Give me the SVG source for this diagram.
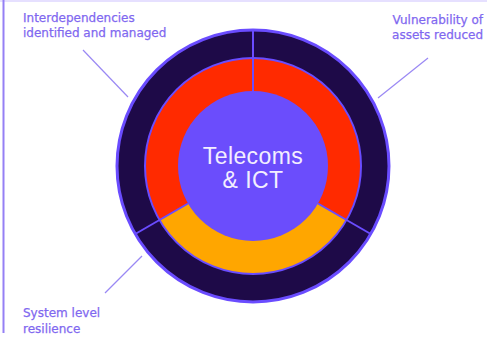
<svg xmlns="http://www.w3.org/2000/svg" width="487" height="345" viewBox="0 0 487 345">
  <style>
    .lbl { font-family: "DejaVu Sans", "Liberation Sans", sans-serif; font-size: 12px; fill: #7f68f0; stroke: #7f68f0; stroke-width: 0.25; }
    .ctr { font-family: "Liberation Sans", Arial, sans-serif; font-size: 23px; letter-spacing: 0.4px; fill: #f3eeff; text-anchor: middle; }
    .lead { stroke: #9a88f4; stroke-width: 1.2; fill: none; }
    .div { stroke: #6a4cff; stroke-width: 2; }
  </style>
  <rect width="487" height="345" fill="#ffffff"/>
  <rect x="0" y="0" width="487" height="2" fill="#e6e0ff"/>
  <line x1="3.5" y1="0" x2="3.5" y2="333" stroke="#9580f5" stroke-width="2"/>

  <g id="connectors">
    <line class="lead" x1="83" y1="50" x2="128" y2="97"/>
    <line class="lead" x1="428" y1="58" x2="378" y2="98"/>
    <line class="lead" x1="105" y1="293" x2="142" y2="256"/>
  </g>

  <g id="outer-ring">
    <circle cx="253" cy="166" r="136" fill="#1e0a48" stroke="#6a4cff" stroke-width="3"/>
  </g>
  <g id="middle-ring">
    <path d="M253 166 L159.47 220 A108 108 0 0 1 253 58 Z" fill="#ff2a00"/>
    <path d="M253 166 L253 58 A108 108 0 0 1 346.53 220 Z" fill="#ff2a00"/>
    <path d="M253 166 L346.53 220 A108 108 0 0 1 159.47 220 Z" fill="#ffa600"/>
    <circle cx="253" cy="166" r="108" fill="none" stroke="#6a4cff" stroke-width="2"/>
  </g>
  <g id="dividers">
    <line class="div" x1="253" y1="91" x2="253" y2="30"/>
    <line class="div" x1="317.95" y1="203.5" x2="370.78" y2="234"/>
    <line class="div" x1="188.05" y1="203.5" x2="135.22" y2="234"/>
  </g>
  <g id="center">
    <circle cx="253" cy="166" r="75" fill="#6b4dfc"/>
    <text class="ctr" x="253" y="164">Telecoms</text>
    <text class="ctr" x="253" y="188">&amp; ICT</text>
  </g>

  <g id="label-interdependencies">
    <text class="lbl" x="23" y="22">Interdependencies</text>
    <text class="lbl" x="23" y="37">identified and managed</text>
  </g>
  <g id="label-vulnerability">
    <text class="lbl" x="483" y="24" text-anchor="end">Vulnerability of</text>
    <text class="lbl" x="483" y="39" text-anchor="end">assets reduced</text>
  </g>
  <g id="label-system">
    <text class="lbl" x="23" y="317">System level</text>
    <text class="lbl" x="23" y="333">resilience</text>
  </g>
</svg>
